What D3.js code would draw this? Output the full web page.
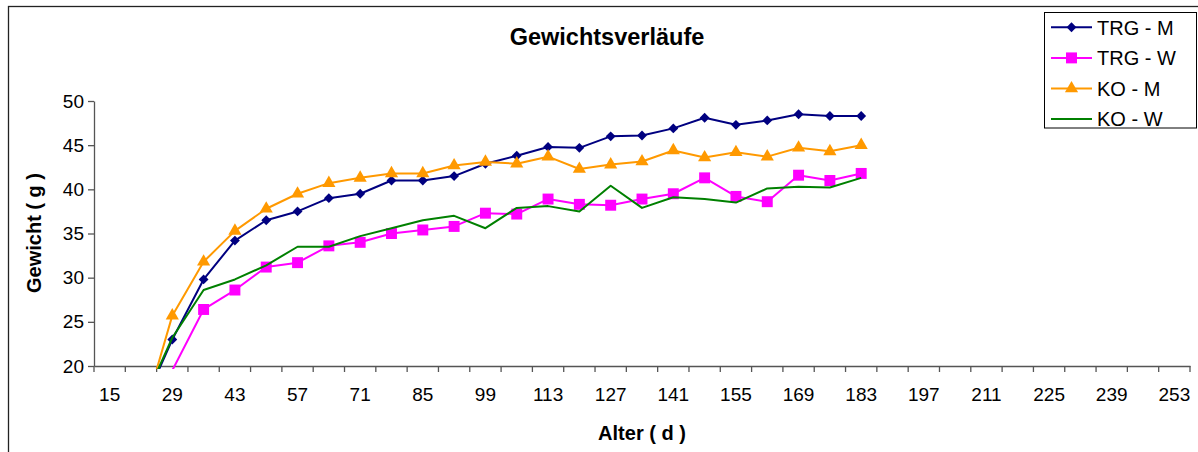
<!DOCTYPE html>
<html>
<head>
<meta charset="utf-8">
<script src="https://cdn.jsdelivr.net/npm/d3@7"></script>
<style>
  html, body { margin: 0; padding: 0; background: #fff; }
  svg { display: block; font-family: "Liberation Sans", Arial, sans-serif; }
</style>
</head>
<body>
<svg id="chart" width="1198" height="452"></svg>
<script>
// Age categories (days) on the x axis
const categories = [15, 22, 29, 36, 43, 50, 57, 64, 71, 78, 85, 92, 99, 106, 113, 120,
  127, 134, 141, 148, 155, 162, 169, 176, 183, 190, 197, 204, 211, 218, 225, 232, 239, 246, 253];

// Measured ages for every series
const ages = [22, 29, 36, 43, 50, 57, 64, 71, 78, 85, 92, 99, 106, 113, 120,
  127, 134, 141, 148, 155, 162, 169, 176, 183];

// Body weight (g) per series
const trgM = [15.0, 23.0, 29.8, 34.2, 36.5, 37.5, 39.0, 39.5, 41.0, 41.0, 41.5, 42.9,
  43.8, 44.8, 44.7, 46.0, 46.1, 46.9, 48.1, 47.3, 47.8, 48.5, 48.3, 48.3];
const trgW = [12.5, 19.5, 26.4, 28.6, 31.2, 31.7, 33.6, 34.0, 35.0, 35.4, 35.8, 37.3,
  37.2, 38.9, 38.3, 38.2, 38.9, 39.5, 41.3, 39.2, 38.6, 41.6, 41.0, 41.8];
const koM = [13.5, 25.7, 31.8, 35.3, 37.8, 39.5, 40.7, 41.3, 41.8, 41.8, 42.7, 43.1,
  42.9, 43.7, 42.3, 42.8, 43.15, 44.4, 43.6, 44.2, 43.7, 44.7, 44.3, 45.0];
const koW = [15.3, 23.2, 28.6, 29.8, 31.4, 33.5, 33.5, 34.7, 35.6, 36.5, 37.0, 35.6,
  37.9, 38.1, 37.5, 40.4, 37.9, 39.1, 38.9, 38.5, 40.1, 40.3, 40.2, 41.3];

const seriesNames = ["TRG - M", "TRG - W", "KO - M", "KO - W"];
const yTicks = [20, 25, 30, 35, 40, 45, 50];

const series = [
  { name: seriesNames[0], values: trgM, color: "#000080", marker: d3.symbolDiamond2, size: 62 },
  { name: seriesNames[1], values: trgW, color: "#FF00FF", marker: d3.symbolSquare, size: 120 },
  { name: seriesNames[2], values: koM, color: "#FF9900", marker: d3.symbolTriangle, size: 75 },
  { name: seriesNames[3], values: koW, color: "#008000", marker: null }
];

const svg = d3.select("#chart");
const plot = { left: 94, right: 1190, top: 101, bottom: 366 };

// Chart area border
svg.append("rect")
  .attr("x", 8.5).attr("y", 6.5)
  .attr("width", 1300).attr("height", 600)
  .attr("fill", "#fff").attr("stroke", "#222").attr("stroke-width", 1.3);

const x = d3.scaleBand()
  .domain(categories.map(String))
  .range([plot.left, plot.right])
  .padding(0);
const y = d3.scaleLinear().domain([20, 50]).range([plot.bottom, plot.top]);
const cx = d => x(String(d)) + x.bandwidth() / 2;

// Title
svg.append("text")
  .attr("x", 607).attr("y", 45)
  .attr("text-anchor", "middle")
  .attr("font-size", 23.5).attr("font-weight", "bold")
  .text("Gewichtsverläufe");

// Y axis
const yAxis = svg.append("g")
  .attr("transform", `translate(${plot.left},0)`)
  .call(d3.axisLeft(y).tickValues(yTicks).tickSize(6).tickPadding(4).tickSizeOuter(0));
yAxis.select(".domain").attr("stroke", "#555").attr("stroke-width", 1.3);
yAxis.selectAll(".tick line").attr("stroke", "#555").attr("stroke-width", 1.3);
yAxis.selectAll(".tick text").attr("font-size", 19).attr("fill", "#000")
  .attr("font-family", "Liberation Sans, Arial, sans-serif");

// X axis: labels on every other category, tick marks on category boundaries
const xAxis = svg.append("g")
  .attr("transform", `translate(0,${plot.bottom})`)
  .call(d3.axisBottom(x)
    .tickValues(categories.filter((d, i) => i % 2 === 0).map(String))
    .tickSize(0).tickPadding(22).tickSizeOuter(0));
xAxis.select(".domain").attr("stroke", "#555").attr("stroke-width", 1.3);
xAxis.selectAll(".tick text").attr("font-size", 19).attr("fill", "#000")
  .attr("font-family", "Liberation Sans, Arial, sans-serif");
const boundaries = categories.map(c => x(String(c))).concat([x.range()[1]]);
xAxis.selectAll("line.bound").data(boundaries).enter().append("line")
  .attr("class", "bound")
  .attr("x1", d => d).attr("x2", d => d)
  .attr("y1", 0).attr("y2", 6)
  .attr("stroke", "#555").attr("stroke-width", 1.3);

// Axis titles
svg.append("text")
  .attr("x", 642).attr("y", 440)
  .attr("text-anchor", "middle")
  .attr("font-size", 20).attr("font-weight", "bold")
  .text("Alter ( d )");
svg.append("text")
  .attr("transform", "translate(41,233) rotate(-90)")
  .attr("text-anchor", "middle")
  .attr("font-size", 20).attr("font-weight", "bold")
  .text("Gewicht ( g )");

// Clip the series to the plot area
svg.append("defs").append("clipPath").attr("id", "plotClip")
  .append("rect")
  .attr("x", plot.left).attr("y", plot.top - 10)
  .attr("width", plot.right - plot.left).attr("height", plot.bottom - plot.top + 13);

const gSeries = svg.append("g").attr("clip-path", "url(#plotClip)");
const line = d3.line().x(d => cx(d.age)).y(d => y(d.v));

series.forEach(s => {
  const pts = ages.map((a, i) => ({ age: a, v: s.values[i] }));
  gSeries.append("path")
    .datum(pts)
    .attr("d", line)
    .attr("fill", "none")
    .attr("stroke", s.color)
    .attr("stroke-width", 2)
    .attr("stroke-linejoin", "round");
  if (s.marker) {
    gSeries.selectAll(null)
      .data(pts.filter(p => p.v >= 20))
      .enter().append("path")
      .attr("d", d3.symbol().type(s.marker).size(s.size))
      .attr("transform", p => `translate(${cx(p.age)},${y(p.v)})`)
      .attr("fill", s.color);
  }
});

// Legend
svg.append("rect")
  .attr("x", 1044.5).attr("y", 12.5)
  .attr("width", 152).attr("height", 115.5)
  .attr("fill", "#fff").attr("stroke", "#000").attr("stroke-width", 1);
const leg = svg.append("g");
series.forEach((s, i) => {
  const ly = 27.3 + i * 30.6;
  leg.append("line")
    .attr("x1", 1051).attr("x2", 1092)
    .attr("y1", ly).attr("y2", ly)
    .attr("stroke", s.color).attr("stroke-width", 2);
  if (s.marker) {
    leg.append("path")
      .attr("d", d3.symbol().type(s.marker).size(s.size))
      .attr("transform", `translate(1071.5,${ly})`)
      .attr("fill", s.color);
  }
  leg.append("text")
    .attr("x", 1097).attr("y", ly + 7.3)
    .attr("font-size", 20)
    .text(s.name);
});
</script>
</body>
</html>
